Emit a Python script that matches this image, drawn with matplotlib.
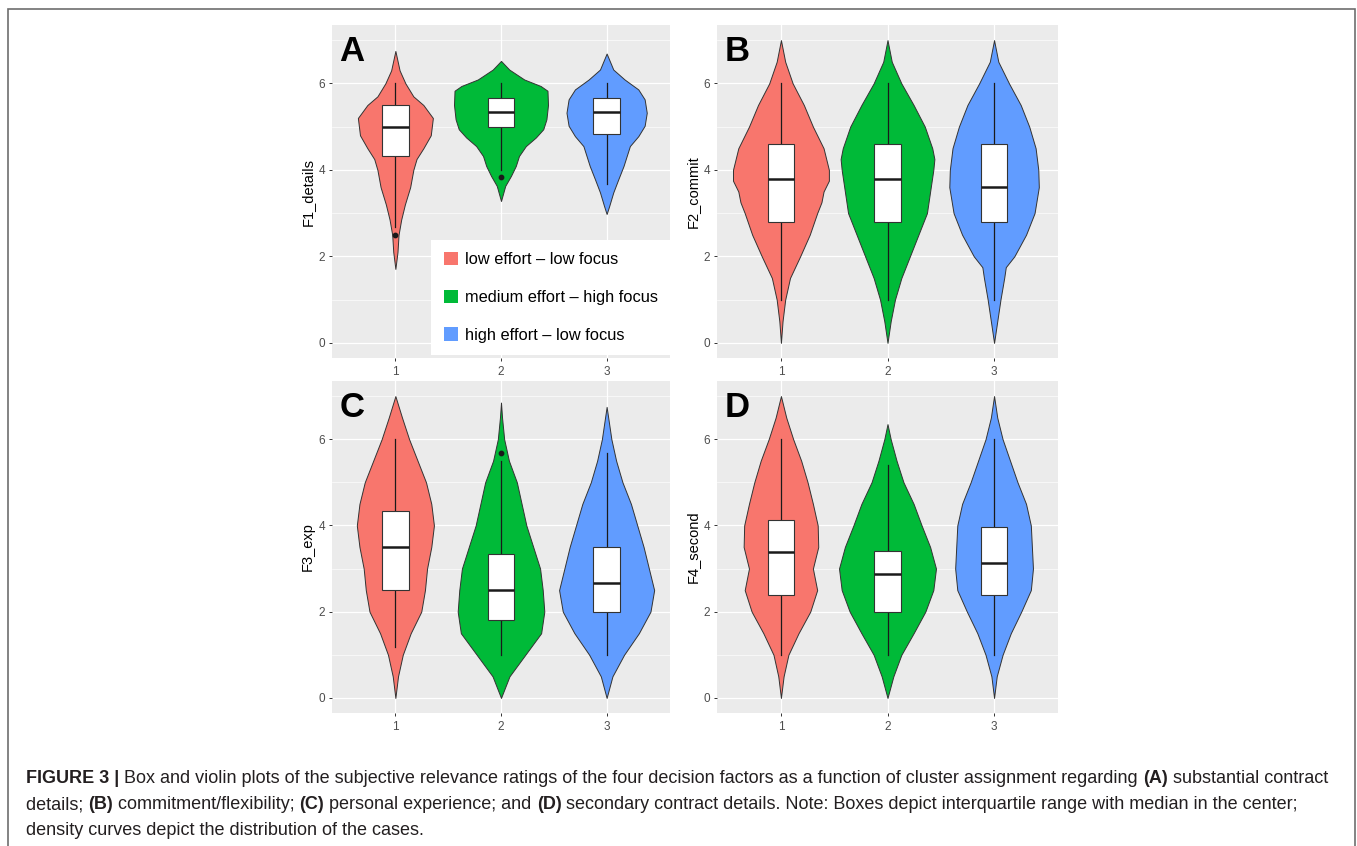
import numpy as np
import matplotlib.pyplot as plt
from matplotlib.patches import Rectangle, Patch
from matplotlib.transforms import IdentityTransform

plt.rcParams['font.family'] = ['Liberation Sans', 'DejaVu Sans']

# categories and legend
clusters = [1, 2, 3]
colors = ['#F8766D', '#00BA38', '#619CFF']
legend_labels = ['low effort \u2013 low focus', 'medium effort \u2013 high focus', 'high effort \u2013 low focus']

# violin outlines: levels (y) and half widths (category units)
f1_y = [[1.71, 2.1, 2.5, 2.85, 3.2, 3.6, 4.0, 4.25, 4.5, 4.8, 5.2, 5.5, 5.7, 6.0, 6.3, 6.75],
        [3.28, 3.63, 3.86, 4.09, 4.32, 4.55, 4.75, 4.94, 5.17, 5.5, 5.83, 5.94, 6.09, 6.32, 6.52],
        [2.98, 3.17, 3.48, 3.78, 4.09, 4.32, 4.55, 4.78, 5.02, 5.32, 5.63, 5.86, 6.09, 6.32, 6.69]]
f1_w = [[0.0, 0.02, 0.03, 0.055, 0.09, 0.14, 0.17, 0.2, 0.265, 0.335, 0.355, 0.265, 0.17, 0.095, 0.04, 0.0],
        [0.0, 0.04, 0.094, 0.14, 0.17, 0.235, 0.33, 0.40, 0.43, 0.445, 0.44, 0.375, 0.22, 0.078, 0.0],
        [0.0, 0.025, 0.063, 0.11, 0.16, 0.19, 0.22, 0.30, 0.36, 0.38, 0.36, 0.30, 0.17, 0.063, 0.0]]

f2_y = [[0, 0.5, 1.0, 1.5, 2.0, 2.5, 3.0, 3.25, 3.5, 3.75, 4.0, 4.5, 5.0, 5.5, 6.0, 6.5, 7.0],
        [0, 0.5, 1.0, 1.5, 2.0, 2.5, 3.0, 3.5, 4.0, 4.25, 4.5, 5.0, 5.5, 6.0, 6.5, 7.0],
        [0, 0.5, 1.0, 1.5, 1.75, 2.0, 2.5, 3.0, 3.6, 4.0, 4.5, 5.0, 5.5, 6.0, 6.5, 7.0]]
f2_w = [[0, 0.015, 0.04, 0.085, 0.18, 0.27, 0.34, 0.38, 0.40, 0.45, 0.45, 0.40, 0.30, 0.215, 0.11, 0.04, 0],
        [0, 0.03, 0.07, 0.13, 0.21, 0.29, 0.37, 0.40, 0.43, 0.44, 0.42, 0.35, 0.245, 0.13, 0.04, 0],
        [0, 0.03, 0.06, 0.095, 0.11, 0.19, 0.30, 0.38, 0.42, 0.415, 0.39, 0.33, 0.25, 0.14, 0.04, 0]]

f3_y = [[0, 0.5, 1.0, 1.5, 2.0, 2.5, 3.0, 3.5, 4.0, 4.5, 5.0, 5.5, 6.0, 6.5, 7.0],
        [0, 0.5, 1.0, 1.5, 2.0, 2.5, 3.0, 3.5, 4.0, 4.5, 5.0, 5.5, 6.0, 6.5, 6.85],
        [0, 0.5, 1.0, 1.5, 2.0, 2.5, 3.0, 3.5, 4.0, 4.5, 5.0, 5.5, 6.0, 6.5, 6.75]]
f3_w = [[0, 0.025, 0.07, 0.145, 0.245, 0.28, 0.30, 0.34, 0.365, 0.34, 0.29, 0.21, 0.13, 0.063, 0],
        [0, 0.08, 0.23, 0.38, 0.41, 0.395, 0.37, 0.305, 0.24, 0.195, 0.15, 0.075, 0.03, 0.01, 0],
        [0, 0.055, 0.165, 0.305, 0.415, 0.45, 0.40, 0.35, 0.29, 0.23, 0.15, 0.09, 0.045, 0.015, 0]]

f4_y = [[0, 0.5, 1.0, 1.5, 2.0, 2.5, 2.75, 3.0, 3.5, 4.0, 4.5, 5.0, 5.5, 6.0, 6.5, 7.0],
        [0, 0.5, 1.0, 1.5, 2.0, 2.5, 3.0, 3.5, 4.0, 4.5, 5.0, 5.5, 6.0, 6.35],
        [0, 0.5, 1.0, 1.5, 2.0, 2.5, 3.0, 3.5, 4.0, 4.5, 5.0, 5.5, 6.0, 6.5, 7.0]]
f4_w = [[0, 0.025, 0.07, 0.165, 0.275, 0.34, 0.32, 0.30, 0.35, 0.345, 0.30, 0.25, 0.19, 0.115, 0.05, 0],
        [0, 0.055, 0.13, 0.245, 0.355, 0.43, 0.455, 0.40, 0.32, 0.245, 0.15, 0.085, 0.03, 0],
        [0, 0.025, 0.08, 0.157, 0.255, 0.345, 0.365, 0.355, 0.345, 0.30, 0.22, 0.15, 0.08, 0.03, 0]]

# box plot statistics
f1_q1 = [4.33, 5.0, 4.83]
f1_med = [5.0, 5.33, 5.33]
f1_q3 = [5.5, 5.67, 5.67]
f1_lo = [2.67, 4.0, 3.67]
f1_hi = [6.0, 6.0, 6.0]
f1_out = [[2.5], [3.83], []]

f2_q1 = [2.8, 2.8, 2.8]
f2_med = [3.8, 3.8, 3.6]
f2_q3 = [4.6, 4.6, 4.6]
f2_lo = [1.0, 1.0, 1.0]
f2_hi = [6.0, 6.0, 6.0]
f2_out = [[], [], []]

f3_q1 = [2.5, 1.8, 2.0]
f3_med = [3.5, 2.5, 2.67]
f3_q3 = [4.33, 3.33, 3.5]
f3_lo = [1.17, 1.0, 1.0]
f3_hi = [6.0, 5.5, 5.67]
f3_out = [[], [5.67], []]

f4_q1 = [2.38, 2.0, 2.38]
f4_med = [3.38, 2.88, 3.13]
f4_q3 = [4.13, 3.4, 3.96]
f4_lo = [1.0, 1.0, 1.0]
f4_hi = [6.0, 5.4, 6.0]
f4_out = [[], [], []]

W, H = 1357, 846
fig = plt.figure(figsize=(W / 100, H / 100), dpi=100)
fig.patch.set_facecolor('white')


def px_axes(l, t, r, b):
    return fig.add_axes([l / W, 1 - b / H, (r - l) / W, (b - t) / H])


panels = [
    (px_axes(332, 25, 670, 358), 'A', 'F1_details', f1_y, f1_w, f1_q1, f1_med, f1_q3, f1_lo, f1_hi, f1_out),
    (px_axes(717, 25, 1058, 358), 'B', 'F2_commit', f2_y, f2_w, f2_q1, f2_med, f2_q3, f2_lo, f2_hi, f2_out),
    (px_axes(332, 381, 670, 713), 'C', 'F3_exp', f3_y, f3_w, f3_q1, f3_med, f3_q3, f3_lo, f3_hi, f3_out),
    (px_axes(717, 381, 1058, 713), 'D', 'F4_second', f4_y, f4_w, f4_q1, f4_med, f4_q3, f4_lo, f4_hi, f4_out),
]

bw = 0.25
for ax, letter, ylab, vy, vw, q1, med, q3, lo, hi, outs in panels:
    ax.set_facecolor('#EBEBEB')
    for s in ax.spines.values():
        s.set_visible(False)
    ax.set_xlim(0.4, 3.6)
    ax.set_ylim(-0.35, 7.35)
    ax.set_xticks(clusters)
    ax.set_xticklabels([str(c) for c in clusters])
    ax.set_yticks([0, 2, 4, 6])
    ax.set_yticks([1, 3, 5, 7], minor=True)
    ax.grid(which='major', color='white', lw=0.9)
    ax.grid(which='minor', axis='y', color='white', lw=0.45)
    ax.set_axisbelow(True)
    ax.tick_params(which='major', length=2.5, width=0.7, color='#333333',
                   labelsize=8.5, labelcolor='#4D4D4D', pad=2.5)
    ax.tick_params(axis='x', which='major', pad=3.5)
    ax.tick_params(which='minor', length=0)
    ax.set_ylabel(ylab, fontsize=10.5, color='black')
    ax.yaxis.set_label_coords(-0.052, 0.5)

    for i, c in enumerate(clusters):
        y = np.array(vy[i])
        w = np.array(vw[i])
        ax.fill_betweenx(y, c - w, c + w, facecolor=colors[i], edgecolor='#333333', lw=0.7, zorder=2)
        ax.plot([c, c], [lo[i], q1[i]], color='#1A1A1A', lw=0.9, zorder=3)
        ax.plot([c, c], [q3[i], hi[i]], color='#1A1A1A', lw=0.9, zorder=3)
        ax.add_patch(Rectangle((c - bw / 2, q1[i]), bw, q3[i] - q1[i], facecolor='white',
                               edgecolor='#333333', lw=0.8, zorder=4))
        ax.plot([c - bw / 2, c + bw / 2], [med[i], med[i]], color='#1A1A1A', lw=1.8,
                solid_capstyle='butt', zorder=5)
        if outs[i]:
            ax.scatter([c] * len(outs[i]), outs[i], s=10, color='#1A1A1A', zorder=6)

    ax.text(0.022, 1 - 36 / 333, letter, transform=ax.transAxes, fontsize=25,
            fontweight='bold', color='black', va='baseline', ha='left', zorder=7)

# legend in panel A
axA = panels[0][0]
handles = [Patch(facecolor=c, edgecolor='none') for c in colors]
leg = axA.legend(handles, legend_labels, loc='lower right', bbox_to_anchor=(1.0, 3 / 333),
                 borderaxespad=0, fontsize=11.8, frameon=True, fancybox=False,
                 handlelength=0.85, handleheight=0.85, handletextpad=0.43,
                 labelspacing=1.38, borderpad=0.75)
leg.get_frame().set_facecolor('white')
leg.get_frame().set_edgecolor('none')
leg.get_frame().set_alpha(1)
leg.set_zorder(10)

# outer frame
fig.patches.append(Rectangle((8, -20), 1347, 846 - 9 + 20, transform=IdentityTransform(),
                             fill=False, edgecolor='#6E6E6E', lw=1.2))

# caption
cap_color = '#231F20'
cap_size = 13.0
line1 = [('FIGURE 3 |', True),
         (' Box and violin plots of the subjective relevance ratings of the four decision factors as a function of cluster assignment regarding ', False),
         ('(A)', True), (' substantial contract', False)]
line2 = [('details; ', False), ('(B)', True), (' commitment/flexibility; ', False), ('(C)', True),
         (' personal experience; and ', False), ('(D)', True),
         (' secondary contract details. Note: Boxes depict interquartile range with median in the center;', False)]
line3 = [('density curves depict the distribution of the cases.', False)]

renderer = fig.canvas.get_renderer()
for k, runs in enumerate([line1, line2, line3]):
    x = 26
    base = H - (783 + 26 * k)
    for s, bold in runs:
        t = fig.text(x, base, s, transform=IdentityTransform(), fontsize=cap_size,
                     fontweight='bold' if bold else 'normal', color=cap_color,
                     va='baseline', ha='left')
        x = t.get_window_extent(renderer).x1

fig.savefig('out.png', dpi=100)
